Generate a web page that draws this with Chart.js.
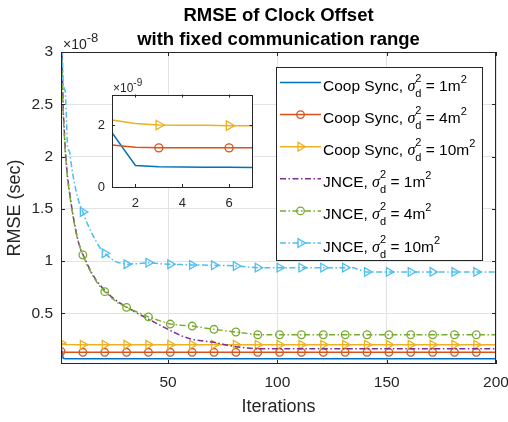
<!DOCTYPE html>
<html>
<head>
<meta charset="utf-8">
<script src="https://cdn.jsdelivr.net/npm/chart.js@4/dist/chart.umd.min.js"></script>
<style>
  html, body { margin: 0; padding: 0; background: #fff; }
  #wrap { position: relative; width: 508px; height: 422px; }
  #main { position: absolute; left: 0; top: 0; }
  #inset { position: absolute; left: 80px; top: 72px; }
</style>
</head>
<body>
<div id="wrap">
  <canvas id="main" width="508" height="422"></canvas>
  <canvas id="inset" width="180" height="145"></canvas>
</div>
<script>
// main plot values are in units of 1e-8 s, inset values in 1e-9 s
const coopIters = [1, 2, 3, 11, 21, 31, 41, 51, 61, 71, 81, 91, 101, 111, 121, 131, 141, 151, 161, 171, 181, 191, 200];
const coopSigma1 = [0.176, 0.070, 0.066, 0.065, 0.065, 0.065, 0.065, 0.065, 0.065, 0.065, 0.065, 0.065, 0.065, 0.065, 0.065, 0.065, 0.065, 0.065, 0.065, 0.065, 0.065, 0.065, 0.065];
const coopSigma4 = [0.136, 0.129, 0.127, 0.127, 0.127, 0.127, 0.127, 0.127, 0.127, 0.127, 0.127, 0.127, 0.127, 0.127, 0.127, 0.127, 0.127, 0.127, 0.127, 0.127, 0.127, 0.127, 0.127];
const coopSigma10 = [0.217, 0.206, 0.201, 0.200, 0.200, 0.200, 0.200, 0.200, 0.200, 0.200, 0.200, 0.200, 0.200, 0.200, 0.200, 0.200, 0.200, 0.200, 0.200, 0.200, 0.200, 0.200, 0.200];

const jnceIters = [1, 2, 3, 4, 5, 6, 7, 8, 9, 10, 11, 13, 15, 17, 19, 21, 24, 27, 31, 36, 41, 46, 51, 56, 61, 66, 71, 76, 81, 86, 91, 101, 111, 121, 131, 135, 140, 141, 151, 161, 171, 181, 191, 200];
const jnceSigma1 = [3.45, 2.45, 2.05, 1.80, 1.65, 1.50, 1.38, 1.27, 1.18, 1.11, 1.065,
  0.97, 0.89, 0.82, 0.765, 0.72, 0.66, 0.61, 0.56, 0.50, 0.445,
  0.39, 0.335, 0.285, 0.25, 0.235, 0.222, 0.20, 0.18, 0.168, 0.161,
  0.16, 0.16, 0.16, 0.16, 0.16, 0.16, 0.16, 0.16, 0.16, 0.16, 0.16, 0.16, 0.16];
const jnceSigma4 = [3.30, 2.40, 2.02, 1.78, 1.63, 1.49, 1.37, 1.26, 1.18, 1.11, 1.058,
  0.96, 0.88, 0.81, 0.75, 0.707, 0.65, 0.60, 0.557, 0.51, 0.466,
  0.43, 0.397, 0.386, 0.378, 0.362, 0.347, 0.334, 0.321, 0.308, 0.295,
  0.295, 0.295, 0.295, 0.295, 0.295, 0.295, 0.295, 0.295, 0.295, 0.295, 0.295, 0.295, 0.295];
const jnceSigma10 = [3.50, 2.68, 2.62, 2.08, 2.04, 1.88, 1.76, 1.66, 1.58, 1.52, 1.47,
  1.36, 1.27, 1.19, 1.12, 1.075, 1.02, 0.985, 0.97, 0.975, 0.985,
  0.975, 0.97, 0.966, 0.963, 0.961, 0.96, 0.957, 0.953, 0.945, 0.937,
  0.937, 0.937, 0.937, 0.937, 0.935, 0.897, 0.896, 0.896, 0.896, 0.896, 0.896, 0.896, 0.896];
const mainMarkers = [1, 11, 21, 31, 41, 51, 61, 71, 81, 91, 101, 111, 121, 131, 141, 151, 161, 171, 181, 191];

const insetIters = [1, 2, 3, 4, 5, 6, 7];
const insetSigma1 = [1.76, 0.70, 0.66, 0.65, 0.64, 0.64, 0.63];
const insetSigma4 = [1.36, 1.29, 1.27, 1.27, 1.27, 1.27, 1.27];
const insetSigma10 = [2.17, 2.06, 2.01, 2.00, 2.00, 1.99, 1.99];
const insetMarkers = [3, 6];

const xTicks = [50, 100, 150, 200];
const yTicks = [0.5, 1, 1.5, 2, 2.5, 3];
const insetXTicks = [2, 4, 6];
const insetYTicks = [0, 2];

const legendNames = ['Coop Sync', 'Coop Sync', 'Coop Sync', 'JNCE', 'JNCE', 'JNCE'];
const legendSigma = ['1', '4', '10', '1', '4', '10'];

const colors = ['#0072BD', '#D95319', '#EDB120', '#7E2F8E', '#77AC30', '#4DBEEE'];
const axisColor = '#262626';
const gridColor = '#e3e3e3';
const FONT = '"Liberation Sans", Arial, sans-serif';
const dashDot = [6, 2.5, 1.5, 2.5];

function series(iters, vals, color, marker, dashed, markerXs, radius, order, clip) {
  const ds = {
    data: iters.map((x, i) => ({x: x, y: vals[i]})),
    borderColor: color,
    borderWidth: 1.5,
    borderDash: dashed ? dashDot : [],
    marker: marker,
    markerSize: radius,
    pointStyle: marker === 'triangle' ? 'triangle' : 'circle',
    pointRotation: marker === 'triangle' ? 90 : 0,
    pointRadius: ctx => (marker && ctx.raw && markerXs.includes(ctx.raw.x)) ? radius : 0,
    pointBorderColor: color,
    pointBackgroundColor: 'rgba(0,0,0,0)',
    pointBorderWidth: 1.3,
    tension: 0,
    order: order
  };
  if (clip) ds.clip = clip;
  return ds;
}

function drawMarker(ctx, type, x, y, r, color) {
  ctx.save();
  ctx.strokeStyle = color;
  ctx.lineWidth = 1.3;
  ctx.setLineDash([]);
  ctx.beginPath();
  if (type === 'circle') {
    ctx.arc(x, y, r, 0, Math.PI * 2);
  } else {
    ctx.moveTo(x + r, y);
    ctx.lineTo(x - 0.5 * r, y + 0.866 * r);
    ctx.lineTo(x - 0.5 * r, y - 0.866 * r);
    ctx.closePath();
  }
  ctx.stroke();
  ctx.restore();
}

function drawTimesTen(ctx, x, base, size, supSize, raise, exp) {
  ctx.save();
  ctx.fillStyle = axisColor;
  ctx.textAlign = 'left';
  ctx.textBaseline = 'alphabetic';
  ctx.font = size + 'px ' + FONT;
  ctx.fillText('\u00d710', x, base);
  const w = ctx.measureText('\u00d710').width;
  ctx.font = supSize + 'px ' + FONT;
  ctx.fillText(exp, x + w, base - raise);
  ctx.restore();
}

function drawBoxAndTicks(chart, len) {
  const {ctx, chartArea: a, scales: {x, y}} = chart;
  ctx.save();
  ctx.strokeStyle = axisColor;
  ctx.lineWidth = 1;
  ctx.setLineDash([]);
  ctx.beginPath();
  x.ticks.forEach(t => {
    const px = Math.round(x.getPixelForValue(t.value)) + 0.5;
    ctx.moveTo(px, a.bottom); ctx.lineTo(px, a.bottom - len);
    ctx.moveTo(px, a.top); ctx.lineTo(px, a.top + len);
  });
  y.ticks.forEach(t => {
    const py = Math.round(y.getPixelForValue(t.value)) + 0.5;
    ctx.moveTo(a.left, py); ctx.lineTo(a.left + len, py);
    ctx.moveTo(a.right, py); ctx.lineTo(a.right - len, py);
  });
  ctx.stroke();
  ctx.strokeRect(Math.round(a.left) + 0.5, Math.round(a.top) + 0.5,
    Math.round(a.right - a.left) - 1, Math.round(a.bottom - a.top) - 1);
  ctx.restore();
}

function drawLegend(chart) {
  const ctx = chart.ctx;
  const box = {left: 276, top: 67, right: 482, bottom: 260};
  ctx.save();
  ctx.fillStyle = '#fff';
  ctx.fillRect(box.left, box.top, box.right - box.left, box.bottom - box.top);
  ctx.strokeStyle = axisColor;
  ctx.lineWidth = 1;
  ctx.strokeRect(box.left + 0.5, box.top + 0.5, box.right - box.left, box.bottom - box.top);
  chart.data.datasets.forEach((ds, i) => {
    const cy = 82.5 + i * 32.1;
    ctx.save();
    ctx.strokeStyle = ds.borderColor;
    ctx.lineWidth = ds.borderWidth;
    ctx.setLineDash(ds.borderDash);
    ctx.beginPath();
    ctx.moveTo(280, cy);
    ctx.lineTo(321, cy);
    ctx.stroke();
    ctx.restore();
    if (ds.marker) drawMarker(ctx, ds.marker, 300.5, cy, ds.markerSize, ds.borderColor);

    const base = cy + 8.5;
    let tx = 323;
    ctx.fillStyle = '#000';
    ctx.textAlign = 'left';
    ctx.textBaseline = 'alphabetic';
    ctx.font = '15.5px ' + FONT;
    const head = legendNames[i] + ', ';
    ctx.fillText(head, tx, base);
    tx += ctx.measureText(head).width;
    ctx.font = 'italic 16px "Liberation Serif", serif';
    ctx.fillText('\u03c3', tx, base);
    tx += ctx.measureText('\u03c3').width;
    ctx.font = '11px ' + FONT;
    ctx.fillText('2', tx, base - 9);
    ctx.fillText('d', tx, base + 6);
    tx += Math.max(ctx.measureText('2').width, ctx.measureText('d').width);
    ctx.font = '15.5px ' + FONT;
    const tail = ' = ' + legendSigma[i] + 'm';
    ctx.fillText(tail, tx, base);
    tx += ctx.measureText(tail).width;
    ctx.font = '11px ' + FONT;
    ctx.fillText('2', tx, base - 8);
  });
  ctx.restore();
}

const mainDecor = {
  id: 'mainDecor',
  afterDatasetsDraw(chart) {
    drawBoxAndTicks(chart, 4);
  },
  afterDraw(chart) {
    const {ctx, chartArea: a} = chart;
    ctx.save();
    ctx.fillStyle = '#000';
    ctx.textAlign = 'center';
    ctx.textBaseline = 'alphabetic';
    ctx.font = 'bold 18.5px ' + FONT;
    const cx = (a.left + a.right) / 2;
    ctx.fillText('RMSE of Clock Offset', cx, 21);
    ctx.fillText('with fixed communication range', cx, 45);
    ctx.restore();
    drawTimesTen(ctx, 63, 49, 14, 13, 7.5, '-8');
    drawLegend(chart);
  }
};

const noJnceClip = {left: 6, top: 0, right: 0, bottom: 0};

new Chart(document.getElementById('main'), {
  type: 'line',
  data: {
    datasets: [
      series(coopIters, coopSigma1, colors[0], null, false, mainMarkers, 0, 5),
      series(coopIters, coopSigma4, colors[1], 'circle', false, mainMarkers, 3.8, 4),
      series(coopIters, coopSigma10, colors[2], 'triangle', false, mainMarkers, 5, 3),
      series(jnceIters, jnceSigma1, colors[3], null, true, mainMarkers, 0, 2, noJnceClip),
      series(jnceIters, jnceSigma4, colors[4], 'circle', true, mainMarkers, 3.8, 1, noJnceClip),
      series(jnceIters, jnceSigma10, colors[5], 'triangle', true, mainMarkers, 5, 0, noJnceClip)
    ]
  },
  options: {
    responsive: false,
    animation: false,
    events: [],
    layout: {padding: {left: 0, right: 12, top: 52, bottom: 0}},
    plugins: {legend: {display: false}, tooltip: {enabled: false}, title: {display: false}},
    scales: {
      x: {
        type: 'linear',
        min: 1,
        max: 200,
        afterBuildTicks: s => { s.ticks = xTicks.map(v => ({value: v})); },
        afterFit: s => { s.height = 58; s.paddingLeft = 0; s.paddingRight = 0; },
        grid: {color: gridColor, drawTicks: false},
        border: {display: false},
        ticks: {font: {family: FONT, size: 15.5}, color: axisColor, padding: 9, maxRotation: 0, callback: v => String(v)},
        title: {display: true, text: 'Iterations', font: {family: FONT, size: 18}, color: axisColor, padding: {top: 0, bottom: 4.5}}
      },
      y: {
        type: 'linear',
        min: 0.015,
        max: 3,
        afterBuildTicks: s => { s.ticks = yTicks.map(v => ({value: v})); },
        afterFit: s => { s.width = 61; s.paddingTop = 0; s.paddingBottom = 0; },
        grid: {color: gridColor, drawTicks: false},
        border: {display: false},
        ticks: {font: {family: FONT, size: 15.5}, color: axisColor, padding: 8, callback: v => String(v)},
        title: {display: true, text: 'RMSE (sec)', font: {family: FONT, size: 18}, color: axisColor, padding: {top: 4.5, bottom: 0}}
      }
    }
  },
  plugins: [mainDecor]
});

const insetDecor = {
  id: 'insetDecor',
  beforeDraw(chart) {
    const {ctx, chartArea: a} = chart;
    ctx.save();
    ctx.fillStyle = '#fff';
    ctx.fillRect(a.left, a.top, a.right - a.left, a.bottom - a.top);
    ctx.restore();
  },
  afterDatasetsDraw(chart) {
    drawBoxAndTicks(chart, 3);
  },
  afterDraw(chart) {
    drawTimesTen(chart.ctx, 33, 19.5, 12, 10, 5.5, '-9');
  }
};

new Chart(document.getElementById('inset'), {
  type: 'line',
  data: {
    datasets: [
      series(insetIters, insetSigma1, colors[0], null, false, insetMarkers, 0, 2),
      series(insetIters, insetSigma4, colors[1], 'circle', false, insetMarkers, 4, 1),
      series(insetIters, insetSigma10, colors[2], 'triangle', false, insetMarkers, 5.5, 0)
    ]
  },
  options: {
    responsive: false,
    animation: false,
    events: [],
    layout: {padding: {left: 0, right: 7.5, top: 22.5, bottom: 0}},
    plugins: {legend: {display: false}, tooltip: {enabled: false}, title: {display: false}},
    scales: {
      x: {
        type: 'linear',
        min: 1,
        max: 7,
        afterBuildTicks: s => { s.ticks = insetXTicks.map(v => ({value: v})); },
        afterFit: s => { s.height = 30; s.paddingLeft = 0; s.paddingRight = 0; },
        grid: {display: false, drawTicks: false},
        border: {display: false},
        ticks: {font: {family: FONT, size: 13}, color: axisColor, padding: 8.5, maxRotation: 0, callback: v => String(v)}
      },
      y: {
        type: 'linear',
        min: 0,
        max: 3,
        afterBuildTicks: s => { s.ticks = insetYTicks.map(v => ({value: v})); },
        afterFit: s => { s.width = 32; s.paddingTop = 0; s.paddingBottom = 0; },
        grid: {display: false, drawTicks: false},
        border: {display: false},
        ticks: {font: {family: FONT, size: 13}, color: axisColor, padding: 7, callback: v => String(v)}
      }
    }
  },
  plugins: [insetDecor]
});
</script>
</body>
</html>
